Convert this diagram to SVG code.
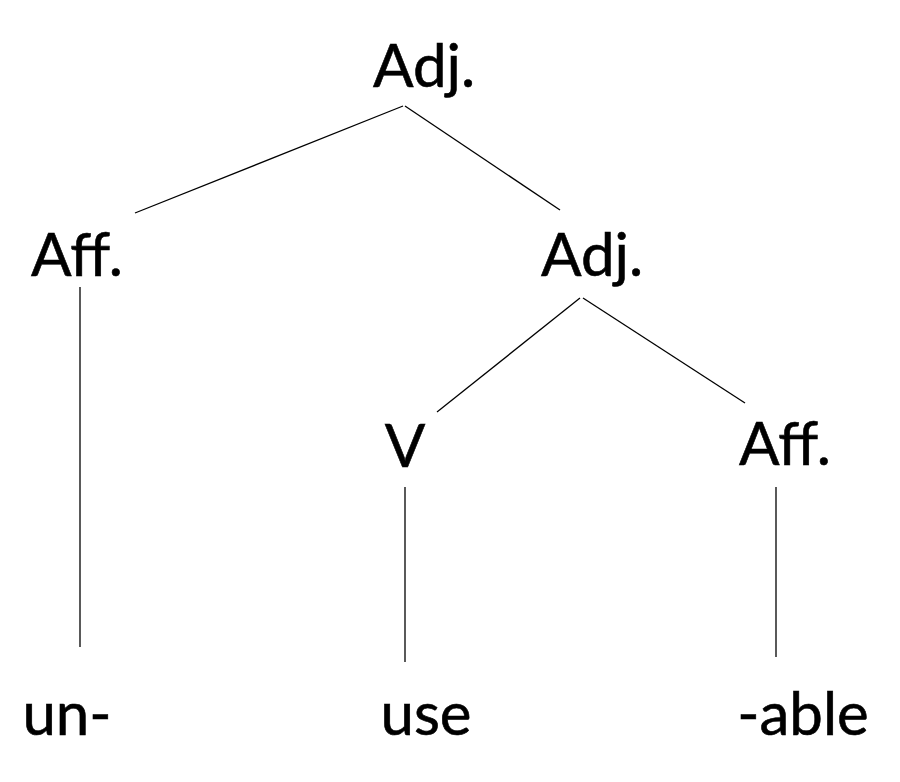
<svg xmlns="http://www.w3.org/2000/svg" width="900" height="782" viewBox="0 0 900 782">
<style>
text{font-family:Lato,"Open Sans","Liberation Sans",sans-serif;font-size:60px;fill:#000;stroke:#000;stroke-width:0.6;text-anchor:middle}
line{stroke:#000;stroke-width:1.3}
</style>
<rect width="900" height="782" fill="#fff"/>
<g id="connectors">
<line x1="403" y1="106" x2="135" y2="213"/>
<line x1="405" y1="106" x2="560" y2="210"/>
<line x1="80" y1="287" x2="80" y2="647"/>
<line x1="580" y1="298" x2="437" y2="412"/>
<line x1="583" y1="298" x2="745" y2="403"/>
<line x1="405" y1="487" x2="405" y2="662"/>
<line x1="776" y1="487" x2="776" y2="657"/>
</g>
<g id="adj-root"><text x="424" y="87">Adj.</text></g>
<g id="aff-left"><text x="77" y="276">Aff.</text></g>
<g id="adj-inner"><text x="592" y="276">Adj.</text></g>
<g id="v"><text x="405" y="467">V</text></g>
<g id="aff-right"><text x="785" y="465">Aff.</text></g>
<g id="un"><text x="67" y="735">un-</text></g>
<g id="use"><text x="426" y="735">use</text></g>
<g id="able"><text x="803" y="735">-able</text></g>
</svg>
